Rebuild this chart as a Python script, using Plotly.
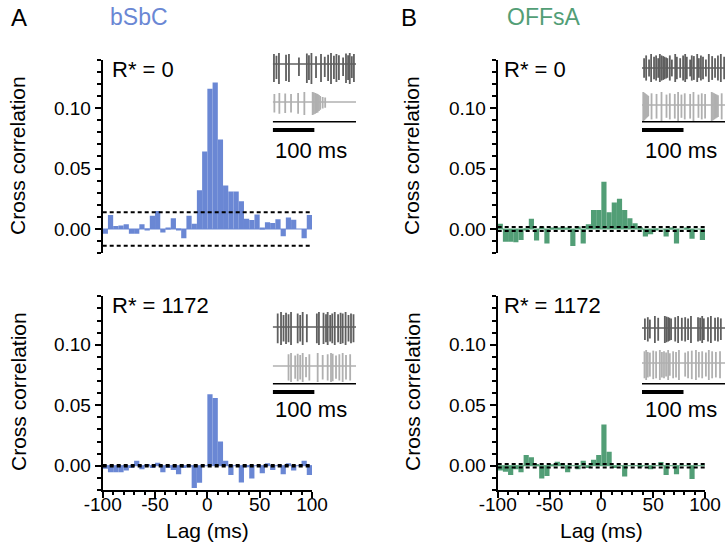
import numpy as np
import plotly.graph_objects as go

# ---------------- data ----------------
lag_centers = np.arange(-97.5, 100, 5.0)   # 5 ms bins, -100..100 ms
bin_width = 5.0

ccg_bsbc_r0 = [-0.004, 0.0116, 0.0025, 0.0028, 0.0039, -0.0039, -0.0039, 0.004, -0.0012, 0.011,
               0.0149, -0.0028, 0.0011, 0.0088, -0.001, -0.0077, 0.011, 0.0044, 0.032, 0.064,
               0.116, 0.121, 0.074, 0.036, 0.031, 0.031, 0.023, 0.0085, 0.0075, 0.012,
               0.0005, 0.0055, 0.005, 0.008, -0.006, 0.0095, 0.0077, 0.0, -0.0077, 0.0116]
ccg_offsa_r0 = [0.0044, -0.0105, -0.0105, -0.011, -0.009, -0.001, 0.0085, -0.0095, 0.002, -0.012,
                0.0005, 0.0005, 0.001, 0.001, -0.014, 0.002, -0.012, 0.004, 0.0157, 0.0157,
                0.039, 0.0138, 0.022, 0.025, 0.0157, 0.0088, 0.0047, 0.0014, -0.0063, -0.0044,
                -0.0005, 0.0, -0.0063, 0.001, -0.012, 0.0, 0.001, -0.008, 0.0, -0.009]
ccg_bsbc_r1172 = [-0.0025, -0.0055, -0.0055, -0.0055, -0.004, -0.002, 0.004, -0.003, 0.0015, -0.002,
                  0.0025, -0.0055, -0.002, -0.0036, -0.007, -0.002, -0.001, -0.0185, -0.014, 0.0,
                  0.059, 0.056, 0.020, 0.004, -0.0077, 0.0, -0.0138, -0.001, -0.0105, 0.0,
                  -0.0063, 0.002, -0.0036, 0.0, -0.007, 0.002, -0.004, 0.0, 0.004, -0.0077]
ccg_offsa_r1172 = [-0.004, -0.005, -0.0077, -0.003, -0.0055, 0.0088, 0.0069, 0.0014, -0.0105, -0.0085,
                   0.0006, 0.0033, 0.002, -0.0055, 0.0, -0.003, 0.004, -0.002, 0.005, 0.0088,
                   0.034, 0.0115, -0.002, 0.0, -0.009, 0.0, 0.0, -0.001, 0.0, -0.003,
                   0.0, 0.003, -0.0077, 0.0, -0.007, 0.0, 0.0, -0.011, 0.0, 0.0]

# significance bounds (+/-)
bound_bsbc_r0 = 0.0138
bound_offsa_r0 = 0.0017
bound_bsbc_r1172 = 0.0006
bound_offsa_r1172 = 0.0014

cell_names = ["bSbC", "OFFsA"]
panel_letters = ["A", "B"]
conditions = ["R* = 0", "R* = 1172"]
x_ticks = [-100, -50, 0, 50, 100]
x_tick_labels = ["-100", "-50", "0", "50", "100"]
scale_bar_ms = 100

# inset spike trains (ms within a 200 ms window) and relative amplitudes
tl_dark_t = [3, 9, 15, 32, 39, 63, 82, 87, 93, 104, 116, 125, 133, 140, 147, 153, 159, 169, 176, 181, 185, 190, 195]
tl_dark_a = [0.9, 0.75, 1.0, 0.85, 0.9, 0.6, 0.95, 0.8, 1.0, 0.7, 0.9, 0.65, 0.85, 1.0, 0.75, 0.9, 0.8, 0.6, 0.95, 0.8, 1.0, 0.7, 0.9]
tl_light_t = [4, 16, 30, 44, 61, 76, 96, 99, 102, 105, 108, 111, 114, 120, 126]
tl_light_a = [0.8, 0.9, 0.85, 0.8, 0.9, 1.0, 1.0, 0.95, 0.9, 0.85, 0.8, 0.7, 0.6, 0.5, 0.45]
tr_dark_t = [5, 10, 17, 22, 29, 34, 39, 43, 47, 51, 54, 58, 61, 67, 72, 80, 84, 92, 99, 104, 108, 116, 120,
             125, 133, 137, 142, 147, 154, 161, 169, 176, 183, 190, 198]
tr_dark_a = [0.7, 0.9, 0.6, 1.0, 0.8, 0.9, 0.7, 1.0, 0.9, 0.85, 0.8, 0.75, 0.7, 0.9, 0.6, 1.0, 0.8, 0.7, 0.9, 1.0,
             0.8, 0.6, 0.9, 0.85, 1.0, 0.7, 0.9, 0.8, 0.6, 1.0, 0.85, 0.7, 0.9, 1.0, 0.8]
tr_light_t = [3, 5, 7, 9, 11, 13, 15, 23, 35, 47, 59, 67, 79, 87, 95, 103, 116, 124, 136, 144, 152,
              168, 171, 174, 177, 180, 183, 192]
tr_light_a = [1.0, 0.95, 0.9, 0.85, 0.8, 0.75, 0.7, 0.9, 0.85, 1.0, 0.8, 0.9, 0.85, 1.0, 0.8, 0.9, 0.85, 1.0,
              0.8, 0.9, 0.85, 1.0, 0.95, 0.9, 0.85, 0.8, 0.75, 0.9]
bl_dark_t = [12, 20, 26, 32, 38, 44, 60, 66, 72, 82, 106, 111, 122, 128, 132, 138, 143, 149, 157, 163, 168,
             175, 182, 188, 194]
bl_dark_a = [0.9, 1.0, 0.8, 0.95, 0.85, 1.0, 0.9, 0.8, 1.0, 0.85, 0.9, 1.0, 0.95, 0.85, 1.0, 0.8, 0.9, 1.0,
             0.85, 0.95, 0.9, 1.0, 0.8, 0.9, 0.85]
bl_light_t = [38, 44, 54, 60, 66, 72, 80, 88, 108, 120, 132, 140, 144, 152, 160, 168, 176, 186]
bl_light_a = [0.9, 1.0, 0.8, 0.95, 0.85, 1.0, 0.7, 0.9, 1.0, 0.85, 0.9, 1.0, 0.95, 0.8, 0.9, 1.0, 0.85, 0.9]
br_dark_t = [7, 14, 19, 31, 39, 55, 59, 63, 66, 70, 80, 87, 96, 104, 111, 118, 135, 140, 145, 149, 159,
             166, 176, 183, 190]
br_dark_a = [0.8, 0.9, 0.7, 1.0, 0.85, 1.0, 0.95, 0.9, 0.85, 0.8, 0.9, 1.0, 0.85, 0.9, 0.8, 1.0, 0.9, 0.85,
             1.0, 0.8, 0.9, 1.0, 0.85, 0.9, 0.8]
br_light_t = [6, 10, 14, 19, 27, 34, 43, 48, 53, 58, 63, 67, 75, 82, 89, 104, 111, 120, 130, 137, 145,
              154, 161, 169, 178, 188]
br_light_a = [0.9, 1.0, 0.85, 0.8, 0.95, 0.9, 1.0, 0.85, 0.9, 0.8, 1.0, 0.75, 0.9, 0.85, 1.0, 0.8, 0.9,
              0.95, 1.0, 0.85, 0.9, 0.8, 1.0, 0.9, 0.85, 0.9]

# ---------------- styling / layout ----------------
W, H = 725, 558
FONT = "Liberation Sans, Arial, sans-serif"
BLUE = "#6a87d4"
GREEN = "#529e76"
DARK = "#5f5f5f"
LIGHT = "#b0b0b0"


def fx(p):
    return p / W


def fy(p):
    return 1 - p / H


left_x = [102.7, 312.0]
right_x = [497.7, 705.0]
top_y = [59.6, 253.2]
bot_y = [296.3, 489.9]

fig = go.Figure()

panels = [
    ("", left_x, top_y, ccg_bsbc_r0, bound_bsbc_r0, BLUE, False),
    ("2", right_x, top_y, ccg_offsa_r0, bound_offsa_r0, GREEN, False),
    ("3", left_x, bot_y, ccg_bsbc_r1172, bound_bsbc_r1172, BLUE, True),
    ("4", right_x, bot_y, ccg_offsa_r1172, bound_offsa_r1172, GREEN, True),
]

layout = dict(
    template="none",
    width=W, height=H, margin=dict(l=0, r=0, t=0, b=0, pad=0), autosize=False,
    paper_bgcolor="white", plot_bgcolor="rgba(0,0,0,0)",
    showlegend=False, font=dict(family=FONT, size=19, color="black"),
    barmode="overlay",
)

for suf, xd, yd, vals, bnd, col, bottom in panels:
    xa = "x" + suf
    ya = "y" + suf
    fig.add_trace(go.Bar(x=lag_centers, y=vals, width=bin_width, marker=dict(color=col, line=dict(width=0)),
                         xaxis=xa, yaxis=ya, hoverinfo="skip"))
    fig.add_trace(go.Scatter(x=[-100, 100], y=[0, 0], mode="lines", line=dict(color=col, width=1),
                             xaxis=xa, yaxis=ya, hoverinfo="skip"))
    for s in (1, -1):
        fig.add_trace(go.Scatter(x=[-100, 100], y=[s * bnd, s * bnd], mode="lines",
                                 line=dict(color="black", width=2, dash="4px,3px"),
                                 xaxis=xa, yaxis=ya, hoverinfo="skip"))
    xkey = "xaxis" + suf
    ykey = "yaxis" + suf
    xdict = dict(domain=[fx(xd[0]), fx(xd[1])], range=[-100, 100], anchor=ya, showgrid=False,
                 zeroline=False, fixedrange=True, automargin=False)
    if bottom:
        xdict.update(showline=True, linewidth=2, linecolor="black", ticks="outside", ticklen=6,
                     tickwidth=2, tickcolor="black", tickmode="array", tickvals=x_ticks,
                     ticktext=x_tick_labels, tickfont=dict(size=19), ticklabelstandoff=-10,
                     minor=dict(tickmode="linear", tick0=0, dtick=10, ticks="outside", ticklen=3.5,
                                tickwidth=1.5, tickcolor="black"))
    else:
        xdict.update(showline=False, showticklabels=False, ticks="")
    layout[xkey] = xdict
    layout[ykey] = dict(domain=[fy(yd[1]), fy(yd[0])], range=[-0.02, 0.14], anchor=xa, showgrid=False,
                        zeroline=False, showline=True, linewidth=2, linecolor="black",
                        ticks="outside", ticklen=6, tickwidth=2, tickcolor="black",
                        tickmode="linear", tick0=0, dtick=0.05, tickformat=".2f",
                        tickfont=dict(size=19), fixedrange=True, automargin=False,
                        minor=dict(tickmode="linear", tick0=0, dtick=0.01, ticks="outside", ticklen=3.5,
                                   tickwidth=1.5, tickcolor="black"))

# ---------------- insets ----------------
insets = [
    ("5", [272.7, 356.0], 50, tl_dark_t, tl_dark_a, tl_light_t, tl_light_a, (14, 11, 20), (52, 10, 13)),
    ("6", [642.0, 725.0], 50, tr_dark_t, tr_dark_a, tr_light_t, tr_light_a, (18, 14, 14), (55, 13, 16)),
    ("7", [272.7, 356.0], 312, bl_dark_t, bl_dark_a, bl_light_t, bl_light_a, (15, 15, 18), (54, 13, 16)),
    ("8", [642.0, 725.0], 312, br_dark_t, br_dark_a, br_light_t, br_light_a, (16, 12, 15), (51, 13, 17)),
]
INSET_H = 86


def spike_xy(times, amps, base, up, down):
    xs, ys = [], []
    for t, a in zip(times, amps):
        xs += [t, t, None]
        ys += [base - up * a, base + down * a, None]
    return xs, ys


for suf, xpx, top, dt, da, lt, la, dstyle, lstyle in insets:
    xa = "x" + suf
    ya = "y" + suf
    for times, amps, (base, up, down), col in ((dt, da, dstyle, DARK), (lt, la, lstyle, LIGHT)):
        fig.add_trace(go.Scatter(x=[0, 200], y=[base, base], mode="lines", line=dict(color=col, width=1.5),
                                 xaxis=xa, yaxis=ya, hoverinfo="skip"))
        sx, sy = spike_xy(times, amps, base, up, down)
        fig.add_trace(go.Scatter(x=sx, y=sy, mode="lines", line=dict(color=col, width=1.8),
                                 xaxis=xa, yaxis=ya, hoverinfo="skip"))
    fig.add_trace(go.Scatter(x=[0, 200], y=[71.7, 71.7], mode="lines", line=dict(color="black", width=1.6),
                             xaxis=xa, yaxis=ya, hoverinfo="skip"))
    fig.add_trace(go.Scatter(x=[0, scale_bar_ms], y=[80, 80], mode="lines", line=dict(color="black", width=4),
                             xaxis=xa, yaxis=ya, hoverinfo="skip"))
    layout["xaxis" + suf] = dict(domain=[fx(xpx[0]), fx(xpx[1])], range=[0, 200], anchor=ya, visible=False,
                                 fixedrange=True, automargin=False)
    layout["yaxis" + suf] = dict(domain=[fy(top + INSET_H), fy(top)], range=[INSET_H, 0], anchor=xa,
                                 visible=False, fixedrange=True, automargin=False)

fig.update_layout(**layout)

# ---------------- text ----------------
ann = []
ann.append(dict(text=panel_letters[0], x=fx(9), y=fy(17), xanchor="left", yanchor="middle", font=dict(size=24)))
ann.append(dict(text=cell_names[0], x=fx(108), y=fy(17), xanchor="left", yanchor="middle",
                font=dict(size=23, color=BLUE)))
ann.append(dict(text=panel_letters[1], x=fx(399), y=fy(17), xanchor="left", yanchor="middle", font=dict(size=24)))
ann.append(dict(text=cell_names[1], x=fx(505), y=fy(17), xanchor="left", yanchor="middle",
                font=dict(size=23, color=GREEN)))
for xl in (110.0, 501.5):
    ann.append(dict(text=conditions[0], x=fx(xl), y=fy(70), xanchor="left", yanchor="middle", font=dict(size=22)))
    ann.append(dict(text=conditions[1], x=fx(xl), y=fy(305), xanchor="left", yanchor="middle", font=dict(size=22)))
for xl in (272.7, 642.5):
    for yc in (150, 409):
        ann.append(dict(text=f"{scale_bar_ms} ms", x=fx(xl), y=fy(yc), xanchor="left", yanchor="middle",
                        font=dict(size=22)))
for xc in (18, 412):
    for yc in (156, 392):
        ann.append(dict(text="Cross correlation", x=fx(xc), y=fy(yc), xanchor="center", yanchor="middle",
                        textangle=-90, font=dict(size=21)))
for xc in (207, 601):
    ann.append(dict(text="Lag (ms)", x=fx(xc), y=fy(530), xanchor="center", yanchor="middle", font=dict(size=21)))

for a in ann:
    a.update(xref="paper", yref="paper", showarrow=False)
fig.update_layout(annotations=ann)

fig.write_html("out.html")
